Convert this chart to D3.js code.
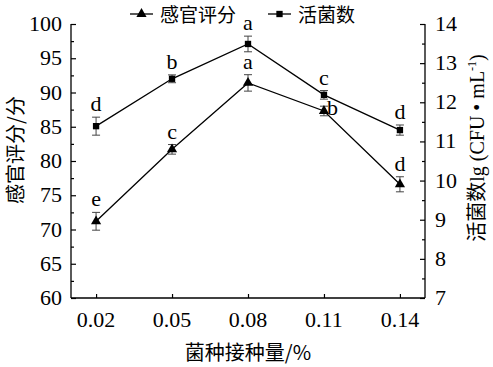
<!DOCTYPE html>
<html>
<head>
<meta charset="utf-8">
<script src="https://cdn.jsdelivr.net/npm/d3@7"></script>
<style>
  body { margin: 0; background: #fff; }
  svg text { font-family: "Times New Roman", "Liberation Serif", "DejaVu Serif", "Noto Sans CJK SC"; fill: #000; }
  svg text.cjk { font-family: "Noto Sans CJK SC"; }
</style>
</head>
<body>
<svg id="chart" width="493" height="367"></svg>
<script>
// categories (inoculum %)
var doses = ["0.02", "0.05", "0.08", "0.11", "0.14"];
// sensory score (left axis)
var sensory = [71.2, 81.7, 91.4, 87.3, 76.6];
var sensoryErr = [1.3, 0.7, 1.2, 0.7, 1.1];
var sensoryLetters = ["e", "c", "a", "b", "d"];
// viable count lg(CFU/mL) (right axis)
var viable = [11.39, 12.6, 13.49, 12.19, 11.29];
var viableErr = [0.23, 0.1, 0.2, 0.11, 0.13];
var viableLetters = ["d", "b", "a", "c", "d"];
var leftTicks = [60, 65, 70, 75, 80, 85, 90, 95, 100];
var rightTicks = [7, 8, 9, 10, 11, 12, 13, 14];

var svg = d3.select("#chart");
var pLeft = 71, pRight = 425, pTop = 24, pBottom = 298;

var x = d3.scalePoint().domain(doses).range([pLeft, pRight]).padding(0.33);
var yL = d3.scaleLinear().domain([60, 100]).range([pBottom, pTop]);
var yR = d3.scaleLinear().domain([7, 14]).range([pBottom, pTop]);

// axes
var axL = svg.append("g").attr("transform", "translate(" + pLeft + ",0)");
axL.call(d3.axisRight(yL).tickValues(d3.range(60, 100.1, 2.5)).tickSize(0).tickFormat(""));
axL.selectAll(".tick line").attr("x2", function(d) { return d % 5 === 0 ? 5 : 3; });
var axR = svg.append("g").attr("transform", "translate(" + pRight + ",0)");
axR.call(d3.axisLeft(yR).tickValues(d3.range(7, 14.01, 0.5)).tickSize(0).tickFormat(""));
axR.selectAll(".tick line").attr("x2", function(d) { return d % 1 === 0 ? -5 : -3; });
var axB = svg.append("g").attr("transform", "translate(0," + pBottom + ")");
axB.call(d3.axisTop(x).tickSize(4).tickFormat(""));
[axL, axR, axB].forEach(function(a) {
    a.select(".domain").attr("stroke", "#000").attr("stroke-width", 1.3);
    a.selectAll(".tick line").attr("stroke", "#000").attr("stroke-width", 1.2);
});
axL.select(".domain").attr("d", "M0," + pTop + "V" + pBottom);
axR.select(".domain").attr("d", "M0," + pTop + "V" + pBottom);
axB.select(".domain").attr("d", "M" + pLeft + ",0H" + pRight);

// tick labels
svg.selectAll(".lt").data(leftTicks).enter().append("text")
    .attr("x", pLeft - 9).attr("y", function(d) { return yL(d) + 7; })
    .attr("text-anchor", "end").attr("font-size", 22).text(function(d) { return d; });
svg.selectAll(".rt").data(rightTicks).enter().append("text")
    .attr("x", pRight + 10).attr("y", function(d) { return yR(d) + 7; })
    .attr("font-size", 22).text(function(d) { return d; });
svg.selectAll(".bt").data(doses).enter().append("text")
    .attr("x", function(d) { return x(d); }).attr("y", pBottom + 29)
    .attr("text-anchor", "middle").attr("font-size", 22).text(function(d) { return d; });

// axis titles
svg.append("text").attr("class", "cjk").attr("x", (pLeft + pRight) / 2).attr("y", 360)
    .attr("text-anchor", "middle").attr("font-size", 20).text("菌种接种量/%");
svg.append("text").attr("class", "cjk").attr("transform", "translate(23,150) rotate(-90)")
    .attr("text-anchor", "middle").attr("font-size", 20).text("感官评分/分");
var rt = svg.append("text").attr("transform", "translate(484,148) rotate(-90)")
    .attr("text-anchor", "middle").attr("font-size", 20);
rt.append("tspan").text("活菌数lg (CFU • mL");
rt.append("tspan").attr("font-size", 12).attr("dy", -8).text("-1");
rt.append("tspan").attr("dy", 8).text(")");

// series
function drawSeries(vals, errs, y, marker) {
    var line = d3.line().x(function(d, i) { return x(doses[i]); }).y(function(d) { return y(d); });
    svg.append("path").datum(vals).attr("d", line)
        .attr("fill", "none").attr("stroke", "#000").attr("stroke-width", 1.3);
    var g = svg.append("g");
    vals.forEach(function(v, i) {
        var cx = x(doses[i]);
        var t = y(v + errs[i]), b = y(v - errs[i]);
        g.append("path").attr("d", "M" + cx + "," + t + "V" + b + "M" + (cx - 4) + "," + t + "h8M" + (cx - 4) + "," + b + "h8")
            .attr("stroke", "#444").attr("stroke-width", 1).attr("fill", "none");
        g.append("path").attr("transform", "translate(" + cx + "," + y(v) + ")")
            .attr("d", d3.symbol().type(marker).size(marker === d3.symbolTriangle ? 45 : 40)())
            .attr("fill", "#000");
    });
}
drawSeries(sensory, sensoryErr, yL, d3.symbolTriangle);
drawSeries(viable, viableErr, yR, d3.symbolSquare);

// significance letters
function drawLetters(vals, errs, letters, y, side) {
    letters.forEach(function(l, i) {
        var cx = x(doses[i]);
        var t = svg.append("text").attr("font-size", 22).text(l);
        if (side[i]) {
            t.attr("x", cx + 3).attr("y", y(vals[i]) + 4);
        } else {
            t.attr("x", cx).attr("y", y(vals[i] + errs[i]) - 6).attr("text-anchor", "middle");
        }
    });
}
drawLetters(sensory, sensoryErr, sensoryLetters, yL, [false, false, false, true, false]);
drawLetters(viable, viableErr, viableLetters, yR, [false, false, false, false, false]);

// legend
function legendItem(x0, marker, label) {
    svg.append("path").attr("d", "M" + x0 + ",14h23").attr("stroke", "#000").attr("stroke-width", 1.3);
    svg.append("path").attr("transform", "translate(" + (x0 + 11.5) + ",14)")
        .attr("d", d3.symbol().type(marker).size(marker === d3.symbolTriangle ? 45 : 40)()).attr("fill", "#000");
    svg.append("text").attr("class", "cjk").attr("x", x0 + 30).attr("y", 22).attr("font-size", 19).text(label);
}
legendItem(130, d3.symbolTriangle, "感官评分");
legendItem(268, d3.symbolSquare, "活菌数");
</script>
</body>
</html>
